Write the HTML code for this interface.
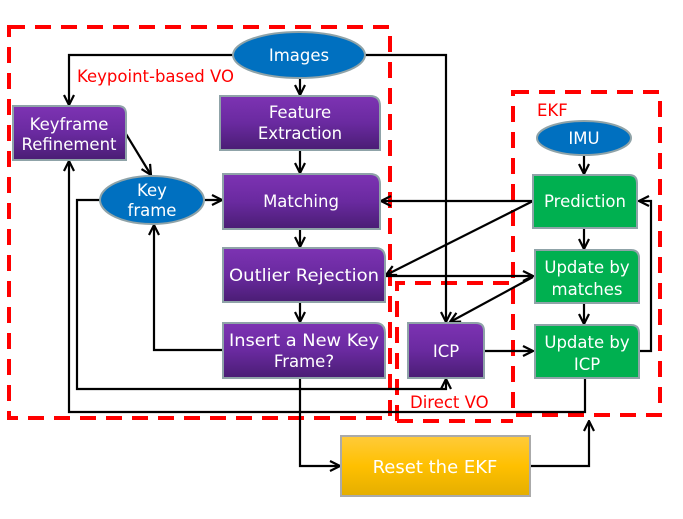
<!DOCTYPE html>
<html><head><style>body{margin:0;background:#fff}svg{display:block}text{font-family:"DejaVu Sans","Liberation Sans",sans-serif;}</style></head><body>
<svg width="683" height="519" viewBox="0 0 683 519" xmlns="http://www.w3.org/2000/svg">
<defs>
<linearGradient id="pg" x1="0" y1="0" x2="0" y2="1"><stop offset="0" stop-color="#7d33b3"/><stop offset="0.5" stop-color="#6a2aa0"/><stop offset="1" stop-color="#4a1d74"/></linearGradient>
<linearGradient id="yg" x1="0" y1="0" x2="0" y2="1"><stop offset="0" stop-color="#ffcb3a"/><stop offset="0.5" stop-color="#ffc000"/><stop offset="1" stop-color="#e4ae00"/></linearGradient>
<marker id="a" viewBox="0 0 12 12" refX="11" refY="6" markerWidth="12" markerHeight="12" orient="auto" markerUnits="userSpaceOnUse"><path d="M1,1 L11,6 L1,11" fill="none" stroke="#000" stroke-width="2.2"/></marker>
</defs>
<g fill="none" stroke="#f00" stroke-width="4" stroke-dasharray="16,10">
<rect x="9" y="27" width="381" height="391"/>
<path d="M397,421 L397,283 L513,283"/>
<path d="M397,421 L513,421"/>
<rect x="513" y="92" width="147" height="323"/>
</g>
<g fill="none" stroke="#000" stroke-width="2.2">
<path d="M233,55 H69 V105" marker-end="url(#a)"/>
<path d="M365,55 H446 V322" marker-end="url(#a)"/>
<path d="M300,78 V95" marker-end="url(#a)"/>
<path d="M300,150 V173" marker-end="url(#a)"/>
<path d="M126,134 L151,175" marker-end="url(#a)"/>
<path d="M205,200 H222" marker-end="url(#a)"/>
<path d="M300,229 V247" marker-end="url(#a)"/>
<path d="M300,302 V322" marker-end="url(#a)"/>
<path d="M225,350 H154 V225" marker-end="url(#a)"/>
<path d="M100,200 H77 V389 H446 V379" marker-end="url(#a)"/>
<path d="M585,378 V412 H69 V161" marker-end="url(#a)"/>
<path d="M300,378 V466 H340" marker-end="url(#a)"/>
<path d="M530,466 H589 V421" marker-end="url(#a)"/>
<path d="M533,201 H381" marker-end="url(#a)"/>
<path d="M533,201 L386,275" marker-end="url(#a)"/>
<path d="M386,276 H533" marker-end="url(#a)"/>
<path d="M533,277 L450,322" marker-end="url(#a)"/>
<path d="M484,351 H533" marker-end="url(#a)"/>
<path d="M584,155 V174" marker-end="url(#a)"/>
<path d="M584,228 V249" marker-end="url(#a)"/>
<path d="M584,303 V324" marker-end="url(#a)"/>
<path d="M638,351 H651 V201 H639" marker-end="url(#a)"/>
</g>
<g stroke="#8fa3a8" stroke-width="2">
<path d="M13,106 H118 Q126,106 126,114 V160 H13 Z" fill="url(#pg)"/>
<path d="M220,96 H370 Q380,96 380,106 V150 H220 Z" fill="url(#pg)"/>
<path d="M223,174 H370 Q380,174 380,184 V229 H223 Z" fill="url(#pg)"/>
<path d="M223,248 H375 Q385,248 385,258 V302 H223 Z" fill="url(#pg)"/>
<path d="M223,323 H375 Q385,323 385,333 V378 H223 Z" fill="url(#pg)"/>
<path d="M408,323 H476 Q484,323 484,331 V378 H408 Z" fill="url(#pg)"/>
<path d="M533,175 H629 Q637,175 637,183 V228 H533 Z" fill="#00b050"/>
<path d="M535,250 H631 Q639,250 639,258 V303 H535 Z" fill="#00b050"/>
<path d="M535,325 H631 Q639,325 639,333 V378 H535 Z" fill="#00b050"/>
<rect x="341" y="436" width="189" height="60" fill="url(#yg)" stroke="#aaa"/>
<ellipse cx="299" cy="55" rx="66" ry="23" fill="#0070c0"/>
<ellipse cx="152" cy="200" rx="52" ry="24" fill="#0070c0"/>
<ellipse cx="584" cy="138" rx="47" ry="17" fill="#0070c0"/>
</g>
<g fill="#fff" font-size="16.5" text-anchor="middle">
<text x="299" y="61">Images</text>
<text x="69" y="130">Keyframe</text><text x="69" y="150">Refinement</text>
<text x="300" y="118">Feature</text><text x="300" y="139">Extraction</text>
<text x="152" y="196">Key</text><text x="152" y="216">frame</text>
<text x="301" y="207">Matching</text>
<text x="304" y="281" textLength="150" lengthAdjust="spacingAndGlyphs">Outlier Rejection</text>
<text x="304" y="346" textLength="150" lengthAdjust="spacingAndGlyphs">Insert a New Key</text><text x="304" y="367">Frame?</text>
<text x="446" y="357">ICP</text>
<text x="584" y="144">IMU</text>
<text x="585" y="207">Prediction</text>
<text x="587" y="273">Update by</text><text x="587" y="295">matches</text>
<text x="587" y="348">Update by</text><text x="587" y="370">ICP</text>
<text x="435" y="473" font-size="18">Reset the EKF</text>
</g>
<g fill="#f00" font-size="16.5">
<text x="77" y="82">Keypoint-based VO</text>
<text x="537" y="116">EKF</text>
<text x="410" y="408">Direct VO</text>
</g>
</svg>
</body></html>
